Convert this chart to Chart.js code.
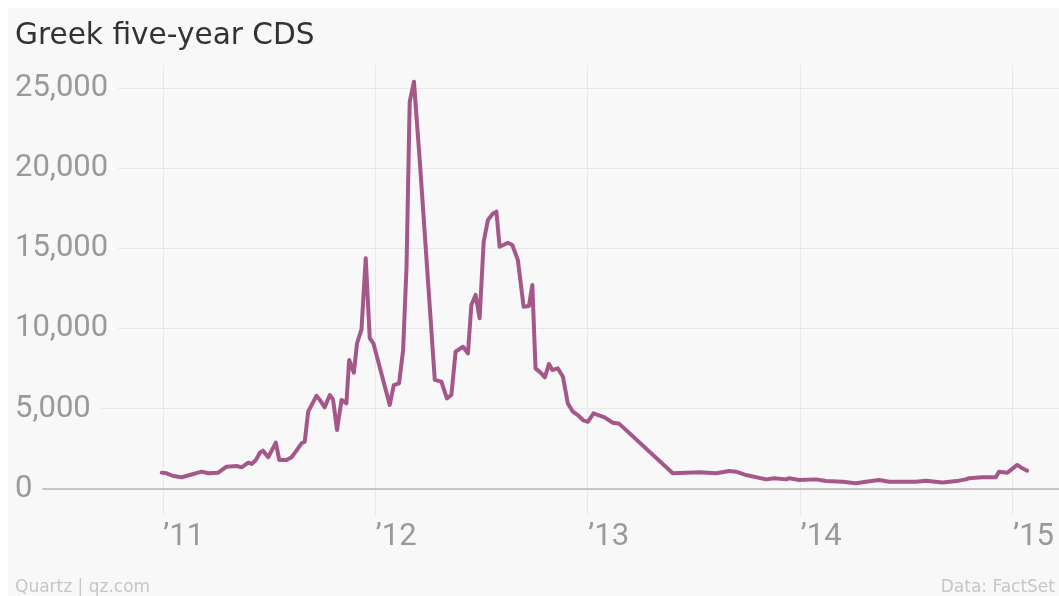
<!DOCTYPE html>
<html>
<head>
<meta charset="utf-8">
<script src="https://cdn.jsdelivr.net/npm/chart.js@4.4.1/dist/chart.umd.min.js"></script>
<style>
  html, body { margin: 0; padding: 0; background: #fff; }
  body { width: 1059px; height: 596px; position: relative; overflow: hidden; }
  #panel { position: absolute; left: 8px; top: 8px; right: 0; bottom: 0; background: #f8f8f8; }
  #chart { position: absolute; left: 0; top: 0; }
  .txt { position: absolute; white-space: nowrap; font-family: "DejaVu Sans", sans-serif; line-height: 1; }
  #title { left: 15px; top: 20px; font-size: 29.6px; color: #333; }
  #source { left: 15px; top: 578px; font-size: 17px; color: #c6c6c6; }
  #credit { right: 4px; top: 578px; font-size: 17px; color: #c6c6c6; }
</style>
</head>
<body>
<div id="panel"></div>
<canvas id="chart" width="1059" height="596"></canvas>
<div class="txt" id="title">Greek five-year CDS</div>
<div class="txt" id="source">Quartz | qz.com</div>
<div class="txt" id="credit">Data: FactSet</div>
<script>
// Greek 5y CDS (basis points), x = decimal year
const years = [
  2010.994, 2011.017, 2011.048, 2011.088, 2011.127, 2011.182, 2011.213, 2011.260,
  2011.299, 2011.346, 2011.370, 2011.401, 2011.417, 2011.437, 2011.456, 2011.471,
  2011.495, 2011.531, 2011.547, 2011.581, 2011.605, 2011.628, 2011.652, 2011.667,
  2011.683, 2011.722, 2011.738, 2011.761, 2011.785, 2011.800, 2011.819, 2011.840,
  2011.863, 2011.876, 2011.898, 2011.913, 2011.934, 2011.954, 2011.973, 2011.990,
  2012.067, 2012.086, 2012.111, 2012.130, 2012.146, 2012.161, 2012.181, 2012.208,
  2012.279, 2012.310, 2012.336, 2012.357, 2012.377, 2012.412, 2012.435, 2012.451,
  2012.471, 2012.490, 2012.509, 2012.529, 2012.553, 2012.569, 2012.584, 2012.623,
  2012.644, 2012.670, 2012.697, 2012.722, 2012.738, 2012.753, 2012.780, 2012.797,
  2012.816, 2012.832, 2012.858, 2012.882, 2012.905, 2012.929, 2012.952, 2012.976,
  2012.999, 2013.026, 2013.078, 2013.117, 2013.145, 2013.399, 2013.524, 2013.603,
  2013.665, 2013.697, 2013.744, 2013.838, 2013.877, 2013.932, 2013.947, 2013.994,
  2014.073, 2014.120, 2014.198, 2014.261, 2014.308, 2014.370, 2014.417, 2014.543,
  2014.590, 2014.668, 2014.746, 2014.778, 2014.793, 2014.856, 2014.919, 2014.934,
  2014.973, 2014.989, 2015.020, 2015.044, 2015.067
];
const cds = [
  1020, 980, 810, 730, 870, 1080, 980, 1020,
  1390, 1430, 1350, 1640, 1560, 1810, 2260, 2390,
  1980, 2890, 1810, 1810, 1980, 2390, 2850, 2950,
  4820, 5810, 5550, 5090, 5860, 5590, 3680, 5550,
  5340, 8040, 7250, 9080, 9950, 14380, 9400, 9080,
  5240, 6480, 6590, 8660, 13860, 24150, 25390, 20510,
  6800, 6690, 5650, 5860, 8560, 8870, 8460, 11470,
  12100, 10640, 15410, 16770, 17180, 17290, 15100, 15350,
  15210, 14270, 11360, 11410, 12720, 7520, 7210, 6960,
  7790, 7420, 7520, 7000, 5340, 4820, 4610, 4300,
  4190, 4720, 4470, 4130, 4090, 980, 1040, 980,
  1120, 1080, 870, 600, 670, 600, 670, 560,
  600, 500, 450, 360, 450, 560, 450, 450,
  520, 400, 520, 600, 670, 730, 730, 1080,
  1010, 1180, 1500, 1290, 1140
];
const yearTicks = [2011, 2012, 2013, 2014, 2015];
const yearLabels = ['’11', '’12', '’13', '’14', '’15'];
const valueTicks = [0, 5000, 10000, 15000, 20000, 25000];

const lineColor = '#a5578a';
const tickFont = { family: 'Roboto, sans-serif', size: 31 };

new Chart(document.getElementById('chart'), {
  type: 'line',
  data: {
    datasets: [{
      data: years.map((y, i) => ({ x: y, y: cds[i] })),
      borderColor: lineColor,
      borderWidth: 4,
      borderJoinStyle: 'round',
      borderCapStyle: 'round',
      pointRadius: 0,
      tension: 0,
      fill: false
    }]
  },
  options: {
    responsive: false,
    animation: false,
    layout: { padding: { top: 65, left: 15, right: 0, bottom: 37 } },
    plugins: { legend: { display: false }, tooltip: { enabled: false } },
    scales: {
      x: {
        type: 'linear',
        min: 2010.3035,
        max: 2015.2165,
        afterBuildTicks: axis => { axis.ticks = yearTicks.map(v => ({ value: v })); },
        afterFit: axis => { axis.height = 44; },
        border: { display: false },
        grid: { color: '#e8e8e8', lineWidth: 1, drawTicks: false },
        ticks: {
          align: 'start',
          padding: 4,
          maxRotation: 0,
          autoSkip: false,
          color: '#9a9a9a',
          font: tickFont,
          callback: v => yearLabels[yearTicks.indexOf(v)]
        }
      },
      y: {
        min: -1621,
        max: 26434,
        afterBuildTicks: axis => { axis.ticks = valueTicks.map(v => ({ value: v })); },
        afterFit: axis => { axis.width = 0; },
        border: { display: false },
        grid: {
          drawTicks: false,
          color: ctx => ctx.tick && ctx.tick.value === 0 ? '#c4c4c4' : '#e8e8e8',
          lineWidth: ctx => ctx.tick && ctx.tick.value === 0 ? 2 : 1
        },
        ticks: {
          mirror: true,
          padding: 0,
          color: '#9a9a9a',
          font: tickFont,
          showLabelBackdrop: true,
          backdropColor: '#f8f8f8',
          backdropPadding: { left: 0, right: 10, top: 0, bottom: 0 },
          callback: v => v.toLocaleString('en-US')
        }
      }
    }
  }
});
</script>
</body>
</html>
